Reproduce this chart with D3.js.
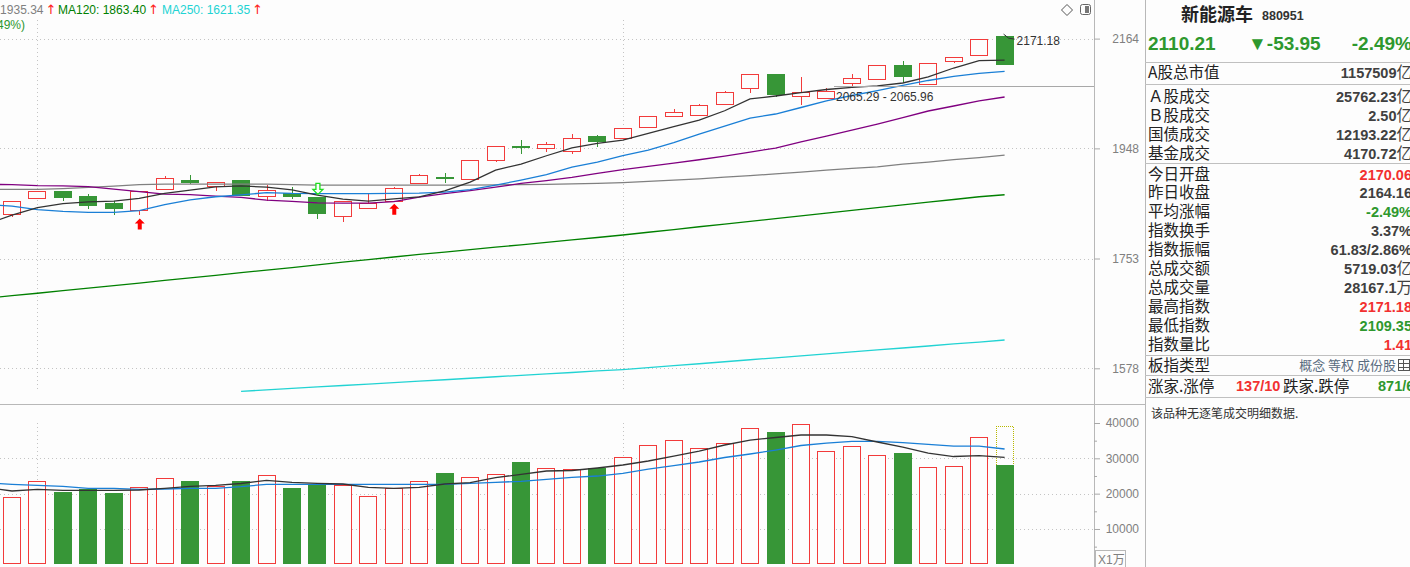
<!DOCTYPE html>
<html>
<head>
<meta charset="utf-8">
<script src="https://cdn.jsdelivr.net/npm/d3@7/dist/d3.min.js"></script>
<style>
body { margin:0; background:#fdfdfd; overflow:hidden; }
svg { display:block; font-family:"Liberation Sans", Arial, "Noto Sans CJK SC", sans-serif; }
.cjk { font-family:"Noto Sans CJK SC", sans-serif; }
</style>
</head>
<body>
<div id="chart"></div>
<script>
// daily bars, oldest first (index level)
var openP  = [1828.6,1856.8,1869.8,1860.9,1848.5,1835.6,1872.9,1889.7,1879.7,1889.7,
              1860.4,1865.7,1858.6,1826.1,1839.1,1852.6,1883.8,1895.2,1891.0,1926.3,
              1951.7,1949.1,1942.4,1971.1,1966.8,1987.7,2008.7,2010.6,2032.0,2063.4,
              2091.9,2047.7,2043.7,2073.3,2081.3,2109.4,2071.1,2117.5,2130.3,2170.06];
var highP  = [1852.6,1870.4,1869.8,1864.5,1852.6,1869.3,1897.0,1898.8,1885.5,1889.7,
              1880.6,1876.5,1858.6,1851.5,1864.5,1877.6,1900.6,1901.9,1926.3,1952.3,
              1963.6,1960.4,1975.0,1973.6,1985.7,2008.7,2022.3,2033.2,2058.0,2091.3,
              2091.9,2085.3,2063.4,2091.9,2109.4,2118.1,2113.4,2125.6,2164.16,2171.18];
var lowP   = [1824.4,1856.8,1852.6,1838.4,1826.8,1826.8,1872.9,1882.5,1870.4,1861.5,
              1852.6,1856.1,1820.9,1815.6,1839.1,1852.6,1883.8,1884.8,1891.0,1923.2,
              1938.0,1941.7,1937.1,1951.1,1966.8,1987.7,2006.7,2010.6,2032.0,2053.5,
              2045.7,2030.1,2043.7,2067.9,2081.3,2075.9,2071.1,2113.4,2130.3,2109.35];
var closeP = [1852.6,1870.4,1856.8,1843.7,1837.9,1869.3,1892.8,1884.3,1885.5,1861.5,
              1871.1,1859.7,1829.6,1851.5,1849.0,1874.7,1898.8,1892.5,1926.3,1952.3,
              1950.4,1955.7,1966.8,1960.4,1985.7,2008.7,2016.5,2030.1,2055.5,2091.3,
              2050.8,2055.5,2058.6,2083.3,2109.4,2086.5,2113.4,2125.6,2164.16,2110.21];
// volume in 万
var volume = [18960,23490,20460,21230,20180,21790,24340,23580,22160,23580,
              25190,21600,22730,22360,19250,21600,23490,25840,24630,25470,
              28960,27170,26890,27340,30290,33680,35100,32830,34250,38490,
              37450,39630,31980,33400,30850,31500,27460,27740,35950,28167.1];
var projectedVolume = 39150;

// moving averages; first value belongs to the bar just left of the view
var ma5   = [1811.6,1827.4,1840.5,1847.6,1850.8,1852.0,1856.8,1865.7,1871.6,1877.6,1879.2,
             1877.0,1872.1,1862.7,1855.6,1852.0,1856.1,1859.7,1870.4,1886.1,1907.9,
             1918.9,1934.3,1949.1,1957.4,1963.6,1976.3,1988.8,2001.6,2019.5,2042.4,
             2048.2,2054.7,2061.0,2065.4,2068.0,2073.9,2085.9,2103.9,2119.0,2120.0];
var ma10  = [1845.8,1843.2,1837.0,1834.0,1832.1,1832.1,1835.2,1845.8,1854.3,1859.8,1863.2,
             1867.1,1865.7,1865.4,1865.4,1865.4,1865.7,1866.3,1868.0,1872.5,1880.6,
             1889.7,1899.7,1913.4,1922.6,1934.6,1944.8,1958.9,1975.0,1990.1,2005.5,
             2013.2,2025.8,2038.5,2049.2,2059.0,2069.0,2078.9,2086.9,2093.0,2097.0];
var ma20  = [1881.9,1881.6,1879.8,1879.4,1878.0,1873.4,1869.0,1864.5,1863.6,1860.9,1858.6,
             1853.8,1851.5,1849.0,1848.5,1848.5,1851.1,1859.1,1865.4,1870.7,1877.0,
             1883.7,1888.8,1894.6,1901.9,1908.8,1914.9,1920.8,1926.9,1933.7,1941.1,
             1948.6,1960.0,1971.2,1982.5,1993.9,2006.4,2019.0,2028.7,2038.5,2046.3];
var ma60  = [1872.9,1872.9,1872.9,1874.3,1876.5,1878.8,1881.6,1882.5,1882.5,1882.5,1882.5,
             1882.5,1881.6,1880.6,1880.6,1880.6,1880.6,1880.6,1880.6,1880.6,1881.2,
             1881.6,1882.1,1882.8,1883.9,1885.2,1887.3,1889.7,1892.1,1895.2,1897.9,
             1901.0,1904.3,1907.9,1911.0,1913.9,1918.9,1922.6,1927.2,1930.9,1935.34];
var ma120 = [1687.6,1691.6,1695.6,1699.8,1703.9,1708.2,1712.3,1716.6,1720.7,1725.0,1729.3,
             1733.6,1737.9,1742.4,1746.8,1751.1,1755.5,1759.9,1763.9,1768.0,1772.1,
             1776.2,1780.4,1784.5,1788.6,1792.9,1797.6,1802.2,1807.1,1811.8,1816.5,
             1821.2,1826.1,1830.9,1835.6,1840.5,1845.3,1850.1,1854.9,1859.8,1863.40];
// MA250 only exists from bar 9 on
var ma250Start = 9;
var ma250 = [1543.5,1545.7,1547.8,1550.1,1552.2,1554.4,1556.5,1558.7,1560.8,1563.0,
             1565.3,1567.4,1569.6,1571.7,1574.0,1576.1,1579.0,1581.9,1584.9,1587.9,
             1591.0,1593.9,1596.9,1600.0,1602.9,1606.0,1609.0,1612.1,1615.2,1618.2,1621.35];
var volMa5  = [21700,20750,21230,20950,20950,20950,21030,21510,22080,22360,22870,
               23780,23210,22930,22730,21800,21510,21800,22730,23100,24510,
               25480,26410,26550,27260,28110,29240,30650,32070,33770,35180,
               35890,36600,36600,36170,34620,33200,31500,30510,30740,30290];
var volMa10 = [23000,22650,22360,22080,21510,21510,21230,21310,21510,21510,21970,
               22650,22650,22650,22650,22650,22650,22650,22650,22930,23210,
               23500,24060,24630,24990,25760,26970,27910,28960,30230,31220,
               32350,33630,34330,34820,34820,34420,33970,33480,33480,32640];

var priceTicks = [1578, 1753, 1948, 2164];
var volTicks = [10000, 20000, 30000, 40000];
var volMinorTicks = [5000, 15000, 25000, 35000];
var monthLines = [1, 24];
var buySignals = [5, 15];
var sellSignals = [12];
var rangeNote = '2065.29 - 2065.96';

var legendLine = [['MA60: ', '1935.34'], ['MA120: ', '1863.40'], ['MA250: ', '1621.35']];
var legendSub = '2110.21(-2.49%)';

// quote panel
var stockName = '新能源车', stockCode = '880951';
var lastQuote = ['2110.21', '▼-53.95', '-2.49%'];
var infoMarket = [['A股总市值', '1157509', '亿', 'flat']];
var infoTrade = [['Ａ股成交', '25762.23', '亿', 'flat'], ['Ｂ股成交', '2.50', '亿', 'flat'],
                 ['国债成交', '12193.22', '亿', 'flat'], ['基金成交', '4170.72', '亿', 'flat']];
var infoIndex = [['今日开盘', '2170.06', '', 'up'], ['昨日收盘', '2164.16', '', 'flat'],
                 ['平均涨幅', '-2.49%', '', 'down'], ['指数换手', '3.37%', '', 'flat'],
                 ['指数振幅', '61.83/2.86%', '', 'flat'], ['总成交额', '5719.03', '亿', 'flat'],
                 ['总成交量', '28167.1', '万', 'flat'], ['最高指数', '2171.18', '', 'up'],
                 ['最低指数', '2109.35', '', 'down'], ['指数量比', '1.41', '', 'up']];
var boardType = ['板指类型', '概念 等权 成份股'];
var breadth = ['涨家.涨停', '137/10', '跌家.跌停', '871/6'];
var noTickNote = '该品种无逐笔成交明细数据.';

// ---- drawing ----
var width = 1410, height = 567;
var plotW = 1094, panelX = 1145;
var bg = '#fdfdfd';
var upColor = '#f23b3b', downColor = '#379637';
var tone = {up: '#f23030', down: '#2e982e', flat: '#404040'};
var maColors = {ma5: '#333333', ma10: '#1a7fd6', ma20: '#800080', ma60: '#808080', ma120: '#008000', ma250: '#22d3d3'};

function px(v) { return Math.round(v) + 0.5; }

var svg = d3.select('#chart').append('svg')
  .attr('width', width).attr('height', height);
svg.append('rect').attr('width', width).attr('height', height).attr('fill', bg);

var defs = svg.append('defs');
defs.append('clipPath').attr('id', 'clipPrice').append('rect')
  .attr('x', 0).attr('y', 0).attr('width', plotW).attr('height', 404);
defs.append('clipPath').attr('id', 'clipVol').append('rect')
  .attr('x', 0).attr('y', 405).attr('width', plotW).attr('height', 162);

var x = d3.scaleLinear().domain([0, openP.length - 1]).range([12, 1004.6]);
var y = d3.scaleLog().domain([priceTicks[0], priceTicks[priceTicks.length - 1]]).range([368.3, 38.6]);
var yv = d3.scaleLinear().domain([0, volTicks[volTicks.length - 1]]).range([564.3, 423]);
var bw = 18;

// grid
var grid = svg.append('g').attr('stroke', '#c4c4c4').attr('stroke-dasharray', '1,3');
priceTicks.forEach(function(t) {
  grid.append('line').attr('x1', 0).attr('x2', plotW).attr('y1', px(y(t))).attr('y2', px(y(t)));
});
volTicks.slice(0, 3).forEach(function(t) {
  grid.append('line').attr('x1', 0).attr('x2', plotW).attr('y1', px(yv(t))).attr('y2', px(yv(t)));
});
monthLines.forEach(function(i) {
  grid.append('line').attr('x1', px(x(i))).attr('x2', px(x(i))).attr('y1', 20).attr('y2', 392);
  grid.append('line').attr('x1', px(x(i))).attr('x2', px(x(i))).attr('y1', 423).attr('y2', 564);
});

// frame lines
var frame = svg.append('g').attr('stroke', '#b8b8b8').attr('shape-rendering', 'crispEdges');
frame.append('line').attr('x1', plotW + 0.5).attr('x2', plotW + 0.5).attr('y1', 0).attr('y2', height);
frame.append('line').attr('x1', panelX + 0.5).attr('x2', panelX + 0.5).attr('y1', 0).attr('y2', height);
frame.append('line').attr('x1', 0).attr('x2', panelX).attr('y1', 404.5).attr('y2', 404.5);

// candles
var bars = d3.range(openP.length).map(function(i) {
  return {i: i, o: openP[i], h: highP[i], l: lowP[i], c: closeP[i], v: volume[i], up: closeP[i] >= openP[i]};
});
var gPrice = svg.append('g').attr('clip-path', 'url(#clipPrice)');
var gc = gPrice.append('g').attr('shape-rendering', 'crispEdges');
bars.forEach(function(d) {
  var cx = Math.round(x(d.i));
  var left = cx - bw / 2;
  var top = Math.round(y(Math.max(d.o, d.c)));
  var bot = Math.round(y(Math.min(d.o, d.c)));
  var hi = Math.round(y(d.h)), lo = Math.round(y(d.l));
  if (d.up) {
    if (hi < top) gc.append('line').attr('x1', cx + 0.5).attr('x2', cx + 0.5).attr('y1', hi).attr('y2', top).attr('stroke', upColor);
    if (lo > bot) gc.append('line').attr('x1', cx + 0.5).attr('x2', cx + 0.5).attr('y1', bot).attr('y2', lo).attr('stroke', upColor);
    gc.append('rect').attr('x', left + 0.5).attr('y', top + 0.5).attr('width', bw - 1)
      .attr('height', Math.max(1, bot - top)).attr('fill', bg).attr('stroke', upColor);
  } else {
    gc.append('line').attr('x1', cx + 0.5).attr('x2', cx + 0.5).attr('y1', hi).attr('y2', lo).attr('stroke', downColor);
    gc.append('rect').attr('x', left).attr('y', top).attr('width', bw)
      .attr('height', Math.max(2, bot - top)).attr('fill', downColor);
  }
});

// moving averages
function series(arr, start) { return arr.map(function(v, k) { return {i: start + k, v: v}; }); }
var priceLine = d3.line().x(function(d) { return x(d.i); }).y(function(d) { return y(d.v); });
[['ma120', ma120, -1], ['ma250', ma250, ma250Start], ['ma60', ma60, -1], ['ma20', ma20, -1],
 ['ma10', ma10, -1], ['ma5', ma5, -1]].forEach(function(m) {
  gPrice.append('path').datum(series(m[1], m[2]))
    .attr('d', priceLine).attr('fill', 'none')
    .attr('stroke', maColors[m[0]]).attr('stroke-width', 1.3);
});

// signal arrows
buySignals.forEach(function(i) {
  var tx = x(i), ty = y(lowP[i]) + 3;
  gPrice.append('path')
    .attr('d', 'M0,0L5,5L2,5L2,11L-2,11L-2,5L-5,5Z')
    .attr('transform', 'translate(' + (tx + 0.5) + ',' + ty + ')').attr('fill', '#ff0000');
});
sellSignals.forEach(function(i) {
  var tx = x(i), ty = y(highP[i]) - 3;
  gPrice.append('path')
    .attr('d', 'M0,0L-5,-5L-2,-5L-2,-11L2,-11L2,-5L5,-5Z')
    .attr('transform', 'translate(' + (tx + 0.5) + ',' + ty + ')')
    .attr('fill', bg).attr('stroke', '#1fdc1f').attr('stroke-width', 1.3);
});

// last-bar high marker and range note
var last = openP.length - 1;
var hx = x(last), hy = y(highP[last]);
svg.append('path')
  .attr('d', 'M' + (hx - 1) + ',' + (hy - 1) + 'L' + (hx + 4) + ',' + (hy + 3) + 'L' + (hx + 10) + ',' + (hy + 4))
  .attr('fill', 'none').attr('stroke', '#333');
svg.append('text').attr('x', hx + 12).attr('y', hy + 9.5)
  .attr('font-size', 12).attr('fill', '#333').text(d3.format('.2f')(highP[last]));
svg.append('line').attr('x1', 834).attr('x2', plotW).attr('y1', 86.5).attr('y2', 86.5)
  .attr('stroke', '#a8a8a8');
svg.append('text').attr('x', 836).attr('y', 101).attr('font-size', 12).attr('fill', '#333').text(rangeNote);

// volume pane
var gVol = svg.append('g').attr('clip-path', 'url(#clipVol)');
var gv = gVol.append('g').attr('shape-rendering', 'crispEdges');
bars.forEach(function(d) {
  var left = Math.round(x(d.i)) - bw / 2;
  var top = Math.round(yv(d.v)), base = Math.round(yv(0));
  if (d.up) {
    gv.append('rect').attr('x', left + 0.5).attr('y', top + 0.5).attr('width', bw - 1)
      .attr('height', base - top - 1).attr('fill', bg).attr('stroke', upColor);
  } else {
    gv.append('rect').attr('x', left).attr('y', top).attr('width', bw)
      .attr('height', base - top).attr('fill', downColor);
  }
});
(function() {
  var left = Math.round(x(last)) - bw / 2 + 0.5;
  var t = Math.round(yv(projectedVolume)) + 0.5, b = Math.round(yv(volume[last]));
  gv.append('path')
    .attr('d', 'M' + left + ',' + b + 'V' + t + 'H' + (left + bw - 1) + 'V' + b)
    .attr('fill', 'none').attr('stroke', '#b8b800').attr('stroke-dasharray', '1,1');
})();
var volLine = d3.line().x(function(d) { return x(d.i); }).y(function(d) { return yv(d.v); });
[[volMa10, maColors.ma10], [volMa5, maColors.ma5]].forEach(function(m) {
  gVol.append('path').datum(series(m[0], -1)).attr('d', volLine)
    .attr('fill', 'none').attr('stroke', m[1]).attr('stroke-width', 1.3);
});

// axes
function styleAxis(g) {
  g.select('.domain').remove();
  g.attr('font-family', '"Liberation Sans", Arial, sans-serif').attr('font-size', 12);
  g.selectAll('line').attr('stroke', '#a8a8a8');
  g.selectAll('text').attr('x', 45).attr('text-anchor', 'end').attr('fill', '#808080');
}
svg.append('g').attr('transform', 'translate(' + plotW + ',0)')
  .call(d3.axisRight(y).tickValues(priceTicks).tickFormat(d3.format('d')).tickSize(6))
  .call(styleAxis);
svg.append('g').attr('transform', 'translate(' + plotW + ',0)')
  .call(d3.axisRight(yv).tickValues(volTicks).tickFormat(d3.format('d')).tickSize(6))
  .call(styleAxis);
svg.append('g').attr('transform', 'translate(' + plotW + ',0)')
  .call(d3.axisRight(yv).tickValues(volMinorTicks).tickFormat('').tickSize(3))
  .call(styleAxis);
svg.append('rect').attr('x', plotW + 1.5).attr('y', 550.5).attr('width', 30).attr('height', 17)
  .attr('fill', 'none').attr('stroke', '#b8b8b8');
svg.append('text').attr('x', plotW + 4).attr('y', 564).attr('font-size', 12).attr('fill', '#808080').text('X1万');

// top-right icons
svg.append('path').attr('d', 'M1067,4.5L1072.5,10L1067,15.5L1061.5,10Z').attr('fill', 'none').attr('stroke', '#555');
svg.append('rect').attr('x', 1080.5).attr('y', 4.5).attr('width', 10).attr('height', 10).attr('rx', 2)
  .attr('fill', 'none').attr('stroke', '#666');
svg.append('rect').attr('x', 1085).attr('y', 6).attr('width', 4).attr('height', 7).attr('fill', '#777');

// legend header
var lg = svg.append('g').attr('font-size', 12);
var lgColors = [maColors.ma60, maColors.ma120, maColors.ma250];
var lgX = [43.5, 58, 162];
legendLine.forEach(function(it, k) {
  var t = lg.append('text').attr('y', 13.5).attr('fill', lgColors[k]).text(it[0] + it[1]);
  if (k === 0) t.attr('x', lgX[k]).attr('text-anchor', 'end');
  else t.attr('x', lgX[k]);
  var endX = k === 0 ? lgX[k] : lgX[k] + t.node().getComputedTextLength();
  lg.append('text').attr('x', endX + 2).attr('y', 14).attr('fill', '#ff2020')
    .attr('font-family', '"DejaVu Sans", sans-serif').attr('font-size', 13).text('↑');
});
lg.append('text').attr('x', 25).attr('y', 28.5).attr('text-anchor', 'end')
  .attr('fill', '#2e982e').text(legendSub);

// quote panel
var qp = svg.append('g');
var rx = 1412;
qp.append('text').attr('class', 'cjk').attr('x', 1181).attr('y', 21).attr('font-size', 18)
  .attr('font-weight', 'bold').attr('fill', '#222').text(stockName);
qp.append('text').attr('x', 1262).attr('y', 20).attr('font-size', 12.5)
  .attr('font-weight', 'bold').attr('fill', '#333').text(stockCode);
qp.append('text').attr('x', 1148).attr('y', 50).attr('font-size', 19).attr('font-weight', 'bold')
  .attr('fill', tone.down).text(lastQuote[0]);
qp.append('text').attr('x', 1248).attr('y', 50).attr('font-size', 19).attr('font-weight', 'bold')
  .attr('fill', tone.down).text(lastQuote[1]);
qp.append('text').attr('x', rx).attr('y', 50).attr('text-anchor', 'end').attr('font-size', 19)
  .attr('font-weight', 'bold').attr('fill', tone.down).text(lastQuote[2]);

var sep = qp.append('g').attr('stroke', '#c0c0c0').attr('shape-rendering', 'crispEdges');
[62.5, 84.5, 163.5, 355.5, 375.5, 397.5].forEach(function(yy) {
  sep.append('line').attr('x1', panelX).attr('x2', width).attr('y1', yy).attr('y2', yy);
});

function infoRow(row, cy) {
  qp.append('text').attr('class', 'cjk').attr('x', 1148).attr('y', cy + 5.5)
    .attr('font-size', 15.5).attr('fill', '#222').text(row[0]);
  var t = qp.append('text').attr('x', rx).attr('y', cy + 5.5).attr('text-anchor', 'end');
  t.append('tspan').attr('font-size', 14.5).attr('font-weight', 'bold')
    .attr('fill', tone[row[3]]).text(row[1]);
  if (row[2]) t.append('tspan').attr('class', 'cjk').attr('font-size', 15.5)
    .attr('fill', '#404040').text(row[2]);
}
infoMarket.forEach(function(r, k) { infoRow(r, 72.7 + k * 19); });
infoTrade.forEach(function(r, k) { infoRow(r, 96 + k * 19); });
infoIndex.forEach(function(r, k) { infoRow(r, 174 + k * 18.93); });

qp.append('text').attr('class', 'cjk').attr('x', 1148).attr('y', 370.5)
  .attr('font-size', 15.5).attr('fill', '#222').text(boardType[0]);
qp.append('text').attr('class', 'cjk').attr('x', 1396).attr('y', 370).attr('text-anchor', 'end')
  .attr('font-size', 13).attr('fill', '#5a6c80').text(boardType[1]);
qp.append('rect').attr('x', 1398.5).attr('y', 359.5).attr('width', 11).attr('height', 11)
  .attr('fill', 'none').attr('stroke', '#555');
qp.append('path').attr('d', 'M1399,363.5H1410M1399,367.5H1410M1403.5,360V370')
  .attr('stroke', '#555').attr('fill', 'none');

qp.append('text').attr('class', 'cjk').attr('x', 1148).attr('y', 391.5)
  .attr('font-size', 15.5).attr('fill', '#222').text(breadth[0]);
qp.append('text').attr('x', 1236).attr('y', 391).attr('font-size', 14.5).attr('font-weight', 'bold')
  .attr('fill', tone.up).text(breadth[1]);
qp.append('text').attr('class', 'cjk').attr('x', 1283).attr('y', 391.5)
  .attr('font-size', 15.5).attr('fill', '#222').text(breadth[2]);
qp.append('text').attr('x', 1378).attr('y', 391).attr('font-size', 14.5).attr('font-weight', 'bold')
  .attr('fill', tone.down).text(breadth[3]);

qp.append('text').attr('class', 'cjk').attr('x', 1151).attr('y', 417.5)
  .attr('font-size', 12).attr('fill', '#333').text(noTickNote);
</script>
</body>
</html>
